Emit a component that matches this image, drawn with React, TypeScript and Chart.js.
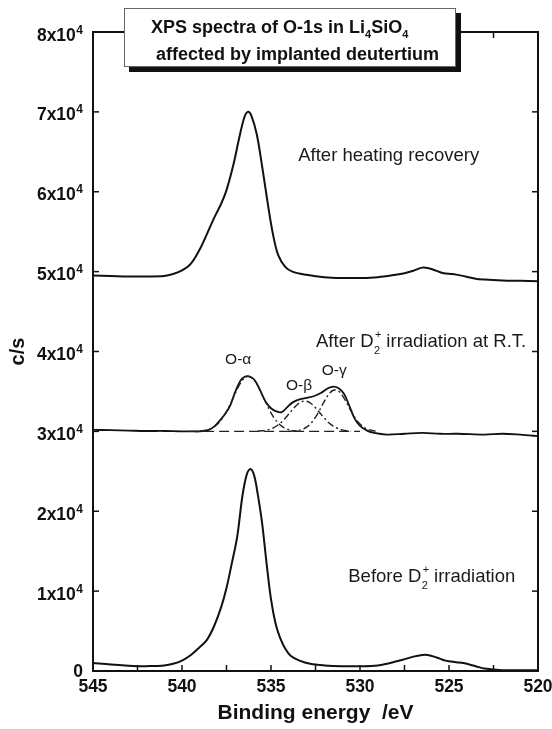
import React, { useEffect, useRef } from "react";
import { Chart, registerables } from "chart.js";

Chart.register(...registerables);

const FONT = "'Liberation Sans', Arial, Helvetica, sans-serif";

// After heating recovery (top spectrum)
const topEnergy = [545, 544, 543, 542, 541, 540.5, 540, 539.5, 539, 538.6, 538.2, 537.8, 537.5, 537.1, 536.8, 536.5, 536.3, 536.1, 535.8, 535.5, 535.2, 534.9, 534.6, 534.2, 533.8, 533, 532, 531, 530, 529, 528, 527.5, 527, 526.5, 526.1, 525.7, 525.3, 524.8, 524.3, 523.5, 523, 522, 521, 520];
const topCounts = [49500, 49450, 49400, 49400, 49450, 49700, 50150, 51000, 52800, 54700, 56700, 58500, 60200, 63500, 66600, 69300, 70000, 69500, 67200, 63200, 58800, 54800, 52100, 50600, 50000, 49600, 49300, 49200, 49200, 49300, 49600, 49800, 50100, 50500, 50400, 50100, 49800, 49700, 49500, 49100, 49000, 48900, 48850, 48800];

// After D2+ irradiation at R.T. (middle spectrum, measured)
const midEnergy = [545, 544, 543, 542, 541, 540, 539.5, 539, 538.5, 538.2, 537.9, 537.6, 537.3, 537, 536.7, 536.5, 536.27, 536, 535.8, 535.5, 535.3, 535, 534.7, 534.4, 534.1, 533.8, 533.4, 533, 532.6, 532.2, 531.8, 531.5, 531.2, 530.9, 530.6, 530.3, 530, 529.6, 529.2, 528.5, 527.5, 526.5, 525.5, 524.5, 523, 522, 521, 520.5, 520];
const midCounts = [30200, 30150, 30100, 30050, 30050, 30000, 30000, 30000, 30200, 30600, 31300, 32100, 33200, 35000, 36400, 36800, 36900, 36600, 36000, 34600, 33700, 32900, 32500, 32400, 33000, 33600, 34000, 34200, 34400, 34800, 35400, 35600, 35400, 34700, 33200, 31600, 30700, 30100, 29800, 29600, 29700, 29800, 29700, 29700, 29600, 29700, 29600, 29500, 29400];

// Fitted components (dash-dot) and background (dashed)
const alphaEnergy = [539, 538.75, 538.5, 538.25, 538, 537.75, 537.5, 537.25, 537, 536.75, 536.5, 536.25, 536, 535.75, 535.5, 535.25, 535, 534.75, 534.5, 534.25, 534, 533.75, 533.5];
const alphaCounts = [30040, 30110, 30240, 30490, 30910, 31570, 32490, 33600, 34800, 35900, 36660, 36900, 36570, 35750, 34620, 33420, 32320, 31450, 30830, 30440, 30210, 30090, 30030];
const betaEnergy = [535.75, 535.5, 535.25, 535, 534.75, 534.5, 534.25, 534, 533.75, 533.5, 533.25, 533, 532.75, 532.5, 532.25, 532, 531.75, 531.5, 531.25, 531, 530.75, 530.5];
const betaCounts = [30030, 30070, 30160, 30310, 30580, 30980, 31520, 32170, 32840, 33400, 33740, 33770, 33490, 32960, 32300, 31650, 31080, 30650, 30360, 30180, 30080, 30030];
const gammaEnergy = [534, 533.75, 533.5, 533.25, 533, 532.75, 532.5, 532.25, 532, 531.75, 531.5, 531.25, 531, 530.75, 530.5, 530.25, 530, 529.75, 529.5, 529.25, 529];
const gammaCounts = [30010, 30040, 30100, 30250, 30530, 31030, 31770, 32740, 33780, 34660, 35150, 35100, 34510, 33570, 32530, 31600, 30910, 30460, 30210, 30080, 30030];
const baseEnergy = [539.6, 530];
const baseCounts = [30000, 30000];

// Before D2+ irradiation (bottom spectrum)
const botEnergy = [545, 544, 543, 542.5, 542, 541, 540.5, 540, 539.5, 539, 538.6, 538.2, 537.8, 537.5, 537.2, 536.9, 536.6, 536.35, 536.15, 535.95, 535.75, 535.5, 535.25, 535, 534.75, 534.5, 534.2, 533.9, 533.4, 532.8, 532, 531, 530, 529, 528.3, 527.6, 527, 526.5, 526.2, 525.7, 525.2, 524.6, 524.2, 523.5, 523, 522, 521, 520];
const botCounts = [1000, 800, 650, 600, 600, 700, 900, 1300, 2000, 3000, 3900, 5600, 8000, 10400, 13500, 16800, 22000, 24700, 25300, 24500, 22200, 18500, 13500, 9000, 6000, 4200, 2800, 1900, 1300, 900, 700, 600, 600, 700, 1000, 1400, 1800, 2000, 2000, 1700, 1300, 1100, 1000, 600, 300, 100, 100, 100];

// Axis ticks
const xMin = 520;
const xMax = 545;
const xStep = 2.5;
const yMin = 0;
const yMax = 80000;
const yStep = 10000;
const yExponent = 4;

const pts = (e: number[], c: number[]) => e.map((x, i) => ({ x, y: c[i] }));

const framePlugin = {
  id: "frame",
  afterDatasetsDraw(chart: any) {
    const { ctx, chartArea: a, scales } = chart;
    ctx.save();
    ctx.strokeStyle = "#111";
    ctx.lineWidth = 1.5;
    const L = 6;
    const seg = (x1: number, y1: number, x2: number, y2: number) => {
      ctx.beginPath();
      ctx.moveTo(x1, y1);
      ctx.lineTo(x2, y2);
      ctx.stroke();
    };
    scales.x.ticks.forEach((t: any) => {
      const px = scales.x.getPixelForValue(t.value);
      seg(px, a.bottom, px, a.bottom - L);
      seg(px, a.top, px, a.top + L);
    });
    scales.y.ticks.forEach((t: any) => {
      const py = scales.y.getPixelForValue(t.value);
      seg(a.left, py, a.left + L, py);
      seg(a.right, py, a.right - L, py);
    });
    ctx.lineWidth = 2;
    ctx.strokeRect(a.left, a.top, a.right - a.left, a.bottom - a.top);

    // y tick labels with superscript exponent
    ctx.fillStyle = "#111";
    ctx.textBaseline = "alphabetic";
    const ys = scales.y;
    ys.ticks.forEach((t: any) => {
      const v = Number(t.value);
      const py = ys.getPixelForValue(v);
      const right = a.left - 10;
      if (v === 0) {
        ctx.font = `bold 17.5px ${FONT}`;
        ctx.textAlign = "right";
        ctx.fillText("0", right, py + 5.5);
        return;
      }
      const mant = v / Math.pow(10, yExponent);
      ctx.font = `bold 12px ${FONT}`;
      const supW = ctx.measureText(String(yExponent)).width;
      ctx.textAlign = "left";
      ctx.fillText(String(yExponent), right - supW, py + 1.5);
      ctx.font = `bold 17.5px ${FONT}`;
      ctx.textAlign = "right";
      ctx.fillText(`${mant}x10`, right - supW - 0.5, py + 8.5);
    });
    ctx.restore();
  },
};

const textPlugin = {
  id: "texts",
  afterDraw(chart: any) {
    const { ctx, scales } = chart;
    const X = (v: number) => scales.x.getPixelForValue(v);
    const Y = (v: number) => scales.y.getPixelForValue(v);
    ctx.save();
    ctx.fillStyle = "#1a1a1a";
    ctx.textBaseline = "alphabetic";
    ctx.textAlign = "left";

    const plain = (s: string, x: number, y: number, size: number) => {
      ctx.font = `${size}px ${FONT}`;
      ctx.fillText(s, x, y);
    };
    const withD2 = (before: string, after: string, x: number, y: number, size: number) => {
      ctx.font = `${size}px ${FONT}`;
      ctx.fillText(before, x, y);
      const w = ctx.measureText(before).width;
      const sx = x + w + 0.5;
      ctx.font = `${Math.round(size * 0.62)}px ${FONT}`;
      ctx.fillText("2", sx, y + size * 0.36);
      ctx.fillText("+", sx + 1, y - size * 0.5);
      const sw = ctx.measureText("2").width;
      ctx.font = `${size}px ${FONT}`;
      ctx.fillText(after, sx + sw + 1, y);
    };

    plain("After heating recovery", X(533.47), Y(63800), 18.5);
    withD2("After D", " irradiation at R.T.", X(532.47), Y(40540), 18.5);
    withD2("Before D", " irradiation", X(530.66), Y(11160), 18.5);
    plain("O-α", X(537.58), Y(38460), 15.5);
    plain("O-β", X(534.16), Y(35210), 15.5);
    plain("O-γ", X(532.15), Y(37000), 15.5);

    // title box
    const bx = 124, by = 8, bw = 332, bh = 59;
    ctx.fillStyle = "#111";
    ctx.fillRect(bx + 5, by + 5, bw, bh);
    ctx.fillStyle = "#fff";
    ctx.fillRect(bx, by, bw, bh);
    ctx.strokeStyle = "#666";
    ctx.lineWidth = 1;
    ctx.strokeRect(bx + 0.5, by + 0.5, bw - 1, bh - 1);

    ctx.fillStyle = "#111";
    const tf = `bold 18px ${FONT}`;
    const sf = `bold 11px ${FONT}`;
    let x = 151;
    const y1 = 32.5;
    ctx.font = tf;
    ctx.fillText("XPS spectra of O-1s in Li", x, y1);
    x += ctx.measureText("XPS spectra of O-1s in Li").width;
    ctx.font = sf;
    ctx.fillText("4", x, y1 + 5);
    x += ctx.measureText("4").width;
    ctx.font = tf;
    ctx.fillText("SiO", x, y1);
    x += ctx.measureText("SiO").width;
    ctx.font = sf;
    ctx.fillText("4", x, y1 + 5);
    ctx.font = tf;
    ctx.fillText("affected by implanted deutertium", 156, 60);
    ctx.restore();
  },
};

export default function App() {
  const ref = useRef<HTMLCanvasElement | null>(null);
  useEffect(() => {
    if (!ref.current) return;
    const solid = (data: any[], w = 2) => ({
      data,
      borderColor: "#111",
      borderWidth: w,
      pointRadius: 0,
      tension: 0.35,
      fill: false,
    });
    const dashdot = (data: any[]) => ({
      data,
      borderColor: "#222",
      borderWidth: 1.4,
      borderDash: [7, 3, 2, 3],
      pointRadius: 0,
      tension: 0.35,
      fill: false,
    });
    const chart = new Chart(ref.current, {
      type: "line",
      data: {
        datasets: [
          solid(pts(botEnergy, botCounts)),
          { ...dashdot(pts(baseEnergy, baseCounts)), borderDash: [10, 5], tension: 0 },
          dashdot(pts(alphaEnergy, alphaCounts)),
          dashdot(pts(betaEnergy, betaCounts)),
          dashdot(pts(gammaEnergy, gammaCounts)),
          solid(pts(midEnergy, midCounts), 1.8),
          solid(pts(topEnergy, topCounts)),
        ],
      },
      options: {
        animation: false,
        responsive: false,
        maintainAspectRatio: false,
        devicePixelRatio: 1,
        parsing: false as any,
        layout: { padding: { left: 0, right: 14, top: 32, bottom: 0 } },
        plugins: { legend: { display: false }, tooltip: { enabled: false } },
        scales: {
          x: {
            type: "linear",
            min: xMin,
            max: xMax,
            reverse: true,
            grid: { display: false, drawTicks: false },
            border: { display: false },
            ticks: {
              stepSize: xStep,
              autoSkip: false,
              maxRotation: 0,
              padding: 6,
              color: "#111",
              font: { family: FONT, size: 17.5, weight: "bold" },
              callback: (v: any) => (Number(v) % 5 === 0 ? String(v) : ""),
            },
            title: {
              display: true,
              text: "Binding energy  /eV",
              color: "#111",
              font: { family: FONT, size: 21, weight: "bold" },
              padding: { top: 0, bottom: 3 },
            },
            afterFit: (s: any) => {
              s.height = 58;
              s.paddingLeft = 0;
              s.paddingRight = 0;
            },
          },
          y: {
            type: "linear",
            min: yMin,
            max: yMax,
            grid: { display: false, drawTicks: false },
            border: { display: false },
            ticks: {
              display: false,
              stepSize: yStep,
            },
            title: {
              display: true,
              text: "c/s",
              color: "#111",
              font: { family: FONT, size: 20, weight: "bold" },
              padding: { top: 6, bottom: 0 },
            },
            afterFit: (s: any) => {
              s.width = 93;
              s.paddingTop = 0;
              s.paddingBottom = 0;
            },
          },
        },
      } as any,
      plugins: [framePlugin, textPlugin],
    });
    return () => chart.destroy();
  }, []);
  return (
    <div style={{ position: "fixed", left: 0, top: 0, width: 552, height: 729, background: "#fff" }}>
      <canvas ref={ref} width={552} height={729} style={{ width: 552, height: 729, display: "block" }} />
    </div>
  );
}
